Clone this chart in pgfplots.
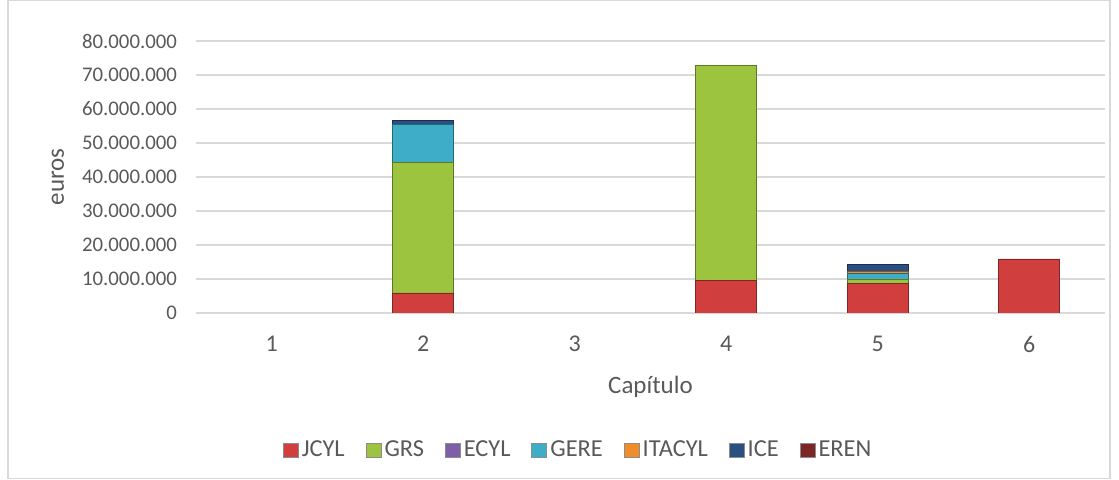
\documentclass[border=0pt]{standalone}
\usepackage{pgfplots}
\pgfplotsset{compat=1.18}
\usepackage{fontspec}
\setmainfont{Carlito}
\definecolor{txt}{HTML}{595959}
\definecolor{gridc}{HTML}{D9D9D9}
\definecolor{cJCYL}{HTML}{D03F3E}
\definecolor{cGRS}{HTML}{9CC43F}
\definecolor{cECYL}{HTML}{7E5FA8}
\definecolor{cGERE}{HTML}{3EADC8}
\definecolor{cITACYL}{HTML}{F08C2A}
\definecolor{cICE}{HTML}{2A4F80}
\definecolor{cEREN}{HTML}{7A2725}
\begin{document}
\begin{tikzpicture}
\useasboundingbox (0,0) rectangle (559.5pt,240pt);
\draw[gridc, line width=0.6pt] (4pt,0.6pt) rectangle (555pt,239.7pt);
\begin{axis}[
  at={(98pt,83.5pt)}, anchor=south west,
  scale only axis, width=454.5pt, height=136pt,
  xmin=0.5, xmax=6.5, ymin=0, ymax=80000000,
  ybar stacked, bar width=30.5pt,
  xtick={1,2,3,4,5,6}, xtick style={draw=none},
  ytick={0,10000000,...,80000000}, ytick style={draw=none},
  scaled y ticks=false,
  /pgf/number format/.cd, fixed, precision=0, 1000 sep={.}, assume math mode=true,
  /pgfplots/.cd,
  ymajorgrids, grid style={gridc, line width=0.6pt},
  axis x line*=bottom, axis y line*=left,
  x axis line style={gridc, line width=0.6pt, -},
  y axis line style={draw=none},
  yticklabel style={font=\fontsize{10.4}{12}\selectfont, text=txt, xshift=-6pt},
  xticklabel style={font=\fontsize{12}{14}\selectfont, text=txt, yshift=-8pt},
  label style={font=\fontsize{12.5}{15}\selectfont, text=txt},
  xlabel={Capítulo},
  xlabel style={at={(axis description cs:0.5,0)}, anchor=center, yshift=-37pt},
  ylabel={euros},
  ylabel style={at={([xshift=-69pt]axis description cs:0,0.5)}, anchor=center},
  legend columns=7,
  legend style={at={(axis description cs:0.421,-0.5055)}, anchor=center, draw=none, fill=none,
    font=\fontsize{12.2}{15}\selectfont, text=txt,
    nodes={inner xsep=1.6pt},
    /tikz/every even column/.append style={column sep=8.8pt}},
  legend image code/.code={\draw[#1, draw=black!45] (0pt,-3.5pt) rectangle (7.5pt,3.5pt);},
  legend cell align=left,
  every axis plot/.append style={line width=0.4pt},
]
\addplot[fill=cJCYL, draw=cJCYL!60!black] coordinates {(1,0) (2,5900000) (3,0) (4,9700000) (5,8800000) (6,15900000)};
\addplot[fill=cGRS, draw=cGRS!60!black] coordinates {(1,0) (2,38300000) (3,0) (4,63000000) (5,1200000) (6,0)};
\addplot[fill=cECYL, draw=cECYL!60!black] coordinates {(1,0) (2,0) (3,0) (4,0) (5,0) (6,0)};
\addplot[fill=cGERE, draw=cGERE!60!black] coordinates {(1,0) (2,11300000) (3,0) (4,0) (5,1700000) (6,0)};
\addplot[fill=cITACYL, draw=cITACYL!60!black] coordinates {(1,0) (2,0) (3,0) (4,0) (5,400000) (6,0)};
\addplot[fill=cICE, draw=cICE!60!black] coordinates {(1,0) (2,1000000) (3,0) (4,0) (5,2300000) (6,0)};
\addplot[fill=cEREN, draw=cEREN!60!black] coordinates {(1,0) (2,0) (3,0) (4,0) (5,0) (6,0)};
\legend{JCYL,GRS,ECYL,GERE,ITACYL,ICE,EREN}
\end{axis}
\end{tikzpicture}
\end{document}
